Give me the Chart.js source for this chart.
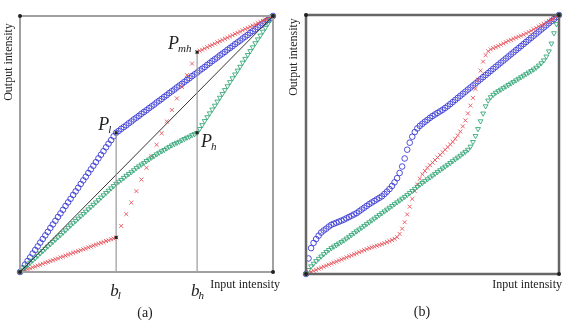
<!DOCTYPE html>
<html>
<head>
<meta charset="utf-8">
<script src="https://cdn.jsdelivr.net/npm/chart.js@4"></script>
<style>
  body { margin: 0; background: #fff; }
  #wrap { position: relative; width: 564px; height: 322px; }
  canvas { position: absolute; top: 0; }
</style>
</head>
<body>
<div id="wrap">
  <canvas id="chart_a" width="282" height="322" style="left:0"></canvas>
  <canvas id="chart_b" width="282" height="322" style="left:282px"></canvas>
</div>
<script>
// input levels (normalised)
let inputX = [0, 0.01, 0.02, 0.03, 0.04, 0.05, 0.06, 0.07, 0.08, 0.09,
  0.10, 0.11, 0.12, 0.13, 0.14, 0.15, 0.16, 0.17, 0.18, 0.19,
  0.20, 0.21, 0.22, 0.23, 0.24, 0.25, 0.26, 0.27, 0.28, 0.29,
  0.30, 0.31, 0.32, 0.33, 0.34, 0.35, 0.36, 0.37, 0.38, 0.39,
  0.40, 0.41, 0.42, 0.43, 0.44, 0.45, 0.46, 0.47, 0.48, 0.49,
  0.50, 0.51, 0.52, 0.53, 0.54, 0.55, 0.56, 0.57, 0.58, 0.59,
  0.60, 0.61, 0.62, 0.63, 0.64, 0.65, 0.66, 0.67, 0.68, 0.69,
  0.70, 0.71, 0.72, 0.73, 0.74, 0.75, 0.76, 0.77, 0.78, 0.79,
  0.80, 0.81, 0.82, 0.83, 0.84, 0.85, 0.86, 0.87, 0.88, 0.89,
  0.90, 0.91, 0.92, 0.93, 0.94, 0.95, 0.96, 0.97, 0.98, 0.99, 1];

// panel (a)
let blueA = [0, 0.014, 0.029, 0.043, 0.057, 0.072, 0.086, 0.100, 0.115, 0.129,
  0.143, 0.157, 0.172, 0.186, 0.200, 0.215, 0.229, 0.243, 0.258, 0.272,
  0.286, 0.301, 0.315, 0.329, 0.344, 0.358, 0.372, 0.387, 0.401, 0.415,
  0.429, 0.444, 0.458, 0.472, 0.487, 0.501, 0.515, 0.530, 0.544, 0.551,
  0.559, 0.566, 0.573, 0.581, 0.588, 0.596, 0.603, 0.610, 0.618, 0.625,
  0.632, 0.640, 0.647, 0.654, 0.662, 0.669, 0.676, 0.684, 0.691, 0.699,
  0.706, 0.713, 0.721, 0.728, 0.735, 0.743, 0.750, 0.757, 0.765, 0.772,
  0.779, 0.787, 0.794, 0.801, 0.809, 0.816, 0.824, 0.831, 0.838, 0.846,
  0.853, 0.860, 0.868, 0.875, 0.882, 0.890, 0.897, 0.904, 0.912, 0.919,
  0.926, 0.934, 0.941, 0.948, 0.956, 0.963, 0.971, 0.978, 0.985, 0.993, 1];
let greenA = [0, 0.009, 0.018, 0.027, 0.036, 0.045, 0.054, 0.064, 0.073, 0.082,
  0.091, 0.100, 0.109, 0.118, 0.127, 0.136, 0.145, 0.154, 0.163, 0.173,
  0.182, 0.191, 0.200, 0.209, 0.218, 0.227, 0.236, 0.245, 0.254, 0.263,
  0.272, 0.281, 0.291, 0.300, 0.309, 0.318, 0.327, 0.336, 0.345, 0.353,
  0.360, 0.368, 0.376, 0.383, 0.390, 0.398, 0.406, 0.413, 0.420, 0.426,
  0.434, 0.440, 0.447, 0.453, 0.460, 0.466, 0.472, 0.477, 0.483, 0.489,
  0.495, 0.500, 0.505, 0.509, 0.515, 0.520, 0.525, 0.529, 0.535, 0.539,
  0.544, 0.559, 0.574, 0.590, 0.605, 0.620, 0.635, 0.650, 0.666, 0.681,
  0.696, 0.711, 0.726, 0.742, 0.757, 0.772, 0.787, 0.802, 0.818, 0.833,
  0.848, 0.863, 0.878, 0.894, 0.909, 0.924, 0.939, 0.954, 0.970, 0.985, 1];
// red is sampled more coarsely on its steep middle part
let redAX = [0, 0.01, 0.02, 0.03, 0.04, 0.05, 0.06, 0.07, 0.08, 0.09,
  0.10, 0.11, 0.12, 0.13, 0.14, 0.15, 0.16, 0.17, 0.18, 0.19,
  0.20, 0.21, 0.22, 0.23, 0.24, 0.25, 0.26, 0.27, 0.28, 0.29,
  0.30, 0.31, 0.32, 0.33, 0.34, 0.35, 0.36, 0.37, 0.38,
  0.40, 0.42, 0.44, 0.46, 0.48, 0.50, 0.52, 0.54, 0.56, 0.58,
  0.60, 0.62, 0.64, 0.66, 0.68,
  0.70, 0.71, 0.72, 0.73, 0.74, 0.75, 0.76, 0.77, 0.78, 0.79,
  0.80, 0.81, 0.82, 0.83, 0.84, 0.85, 0.86, 0.87, 0.88, 0.89,
  0.90, 0.91, 0.92, 0.93, 0.94, 0.95, 0.96, 0.97, 0.98, 0.99, 1];
let redA = [0, 0.004, 0.007, 0.011, 0.014, 0.018, 0.021, 0.025, 0.028, 0.032,
  0.036, 0.039, 0.043, 0.046, 0.050, 0.053, 0.057, 0.060, 0.064, 0.068,
  0.071, 0.075, 0.078, 0.082, 0.085, 0.089, 0.092, 0.096, 0.099, 0.103,
  0.107, 0.110, 0.114, 0.117, 0.121, 0.124, 0.128, 0.131, 0.135,
  0.180, 0.226, 0.271, 0.316, 0.361, 0.407, 0.452, 0.497, 0.542, 0.588,
  0.633, 0.678, 0.723, 0.769, 0.814,
  0.859, 0.864, 0.868, 0.873, 0.878, 0.883, 0.887, 0.892, 0.897, 0.902,
  0.906, 0.911, 0.915, 0.920, 0.925, 0.930, 0.934, 0.939, 0.944, 0.949,
  0.953, 0.958, 0.962, 0.967, 0.972, 0.977, 0.981, 0.986, 0.991, 0.995, 1];
let diagX = [0, 1];
let diagY = [0, 1];
let breakX = [0.38, 0.70];     // b_l, b_h
let breakTop = [0.544, 0.859]; // P_l, P_mh
let breakMid = 0.544;          // P_h

// panel (b)
let blueB = [0, 0.060, 0.100, 0.120, 0.135, 0.148, 0.160, 0.168, 0.175, 0.183,
  0.190, 0.194, 0.198, 0.202, 0.206, 0.210, 0.215, 0.220, 0.225, 0.230,
  0.235, 0.242, 0.249, 0.256, 0.263, 0.270, 0.276, 0.282, 0.288, 0.294,
  0.300, 0.309, 0.318, 0.328, 0.340, 0.354, 0.370, 0.390, 0.415, 0.446,
  0.480, 0.507, 0.530, 0.548, 0.562, 0.572, 0.580, 0.588, 0.595, 0.603,
  0.610, 0.616, 0.622, 0.628, 0.634, 0.641, 0.648, 0.656, 0.664, 0.672,
  0.680, 0.688, 0.696, 0.704, 0.712, 0.720, 0.728, 0.736, 0.744, 0.752,
  0.760, 0.768, 0.776, 0.784, 0.792, 0.800, 0.808, 0.816, 0.824, 0.832,
  0.840, 0.848, 0.856, 0.864, 0.872, 0.880, 0.888, 0.896, 0.904, 0.912,
  0.920, 0.928, 0.936, 0.944, 0.952, 0.960, 0.968, 0.976, 0.984, 0.992, 1];
let greenB = [0, 0.016, 0.030, 0.040, 0.050, 0.059, 0.068, 0.077, 0.085, 0.093,
  0.100, 0.106, 0.112, 0.118, 0.124, 0.130, 0.137, 0.144, 0.151, 0.158,
  0.165, 0.172, 0.179, 0.186, 0.193, 0.200, 0.207, 0.214, 0.221, 0.228,
  0.235, 0.242, 0.249, 0.256, 0.263, 0.270, 0.277, 0.284, 0.291, 0.298,
  0.305, 0.313, 0.321, 0.329, 0.337, 0.345, 0.352, 0.359, 0.366, 0.373,
  0.380, 0.387, 0.394, 0.401, 0.408, 0.415, 0.422, 0.429, 0.436, 0.443,
  0.450, 0.457, 0.465, 0.472, 0.480, 0.492, 0.510, 0.533, 0.560, 0.590,
  0.620, 0.648, 0.670, 0.683, 0.692, 0.700, 0.706, 0.712, 0.718, 0.724,
  0.730, 0.736, 0.742, 0.748, 0.754, 0.760, 0.766, 0.772, 0.778, 0.784,
  0.790, 0.797, 0.805, 0.814, 0.825, 0.840, 0.860, 0.890, 0.930, 0.965, 1];
let redB = [0, 0.004, 0.008, 0.012, 0.016, 0.020, 0.024, 0.028, 0.032, 0.036,
  0.040, 0.044, 0.048, 0.052, 0.056, 0.060, 0.064, 0.068, 0.072, 0.076,
  0.080, 0.084, 0.088, 0.092, 0.096, 0.100, 0.103, 0.106, 0.109, 0.112,
  0.115, 0.119, 0.123, 0.127, 0.131, 0.136, 0.142, 0.155, 0.175, 0.200,
  0.230, 0.260, 0.290, 0.320, 0.345, 0.368, 0.385, 0.398, 0.410, 0.420,
  0.430, 0.440, 0.450, 0.460, 0.470, 0.480, 0.490, 0.500, 0.510, 0.522,
  0.535, 0.550, 0.570, 0.593, 0.620, 0.650, 0.680, 0.715, 0.750, 0.785,
  0.820, 0.845, 0.860, 0.867, 0.872, 0.876, 0.880, 0.885, 0.890, 0.895,
  0.900, 0.904, 0.908, 0.912, 0.916, 0.920, 0.924, 0.929, 0.934, 0.939,
  0.945, 0.950, 0.956, 0.961, 0.966, 0.971, 0.977, 0.982, 0.988, 0.994, 1];

function pts(xs, ys) {
  return xs.map((x, i) => ({ x: x, y: ys[i] }));
}

let BLUE = 'rgba(50, 50, 210, 0.85)';
let RED = 'rgba(230, 75, 85, 0.85)';
let GREEN = 'rgba(45, 165, 115, 0.85)';

function markers(label, xs, ys, color, style, extra) {
  return Object.assign({
    label: label,
    data: pts(xs, ys),
    showLine: false,
    pointStyle: style,
    pointRadius: 2.8,
    pointBorderWidth: 1,
    pointBorderColor: color,
    pointBackgroundColor: 'rgba(0,0,0,0)',
    clip: false
  }, extra || {});
}

function frame(opts) {
  return {
    id: 'frame',
    afterDatasetsDraw(chart) {
      let ctx = chart.ctx;
      let a = chart.chartArea;
      let x = chart.scales.x, y = chart.scales.y;
      ctx.save();
      ctx.strokeStyle = opts.color;
      ctx.lineWidth = opts.width;
      ctx.strokeRect(a.left, a.top, a.right - a.left, a.bottom - a.top);
      ctx.fillStyle = '#222';
      [[a.left, a.top], [a.right, a.bottom], [a.left, a.bottom], [a.right, a.top]].forEach(p => {
        ctx.beginPath(); ctx.arc(p[0], p[1], 2, 0, Math.PI * 2); ctx.fill();
      });
      (opts.dots || []).forEach(d => {
        ctx.fillRect(x.getPixelForValue(d[0]) - 1.5, y.getPixelForValue(d[1]) - 1.5, 3, 3);
      });
      ctx.fillStyle = '#222';
      ctx.font = '12px "Liberation Serif"';
      ctx.textBaseline = 'middle';
      ctx.textAlign = 'center';
      ctx.save();
      ctx.translate(opts.yTitle[0], opts.yTitle[1]);
      ctx.rotate(-Math.PI / 2);
      ctx.fillText('Output intensity', 0, 0);
      ctx.restore();
      ctx.textAlign = 'right';
      ctx.fillText('Input intensity', opts.xTitle[0], opts.xTitle[1]);
      ctx.textAlign = 'center';
      ctx.font = '14px "Liberation Serif"';
      ctx.fillText(opts.caption, opts.capPos[0], opts.capPos[1]);
      ctx.textAlign = 'left';
      ctx.textBaseline = 'alphabetic';
      (opts.marks || []).forEach(m => {
        let px = x.getPixelForValue(m.x) + m.dx;
        let py = y.getPixelForValue(m.y) + m.dy;
        ctx.font = 'italic ' + m.size + 'px "Liberation Serif"';
        ctx.fillText(m.main, px, py);
        let w = ctx.measureText(m.main).width;
        ctx.font = 'italic ' + Math.round(m.size * 0.62) + 'px "Liberation Serif"';
        ctx.fillText(m.sub, px + w - 1, py + 3);
      });
      ctx.restore();
    }
  };
}

let scalesOpt = {
  x: { type: 'linear', min: 0, max: 1, display: false },
  y: { type: 'linear', min: 0, max: 1, display: false }
};

let ctx_a = document.getElementById('chart_a');
let chart_a = new Chart(ctx_a, {
  type: 'scatter',
  data: {
    datasets: [
      {
        label: 'b_l',
        data: pts([breakX[0], breakX[0]], [0, breakTop[0]]),
        showLine: true, borderColor: '#9a9a9a', borderWidth: 1.2, pointRadius: 0
      },
      {
        label: 'b_h',
        data: pts([breakX[1], breakX[1]], [0, breakTop[1]]),
        showLine: true, borderColor: '#9a9a9a', borderWidth: 1.2, pointRadius: 0
      },
      {
        label: 'identity',
        data: pts(diagX, diagY),
        showLine: true, borderColor: '#333', borderWidth: 1, pointRadius: 0
      },
      markers('green', inputX, greenA, GREEN, 'triangle', { rotation: 180 }),
      markers('red', redAX, redA, RED, 'crossRot'),
      markers('blue', inputX, blueA, BLUE, 'circle')
    ]
  },
  options: {
    responsive: false,
    animation: false,
    layout: { padding: { left: 20, right: 9, top: 16, bottom: 50 } },
    plugins: { legend: { display: false }, tooltip: { enabled: false } },
    scales: scalesOpt
  },
  plugins: [frame({
    color: '#a0a0a0', width: 2,
    yTitle: [9, 62], xTitle: [280, 285],
    caption: '(a)', capPos: [145, 313],
    dots: [[breakX[0], breakTop[0]], [breakX[1], breakMid], [breakX[1], breakTop[1]], [breakX[0], redA[38]]],
    marks: [
      { main: 'b', sub: 'l', x: breakX[0], y: 0, dx: -6, dy: 24, size: 17 },
      { main: 'b', sub: 'h', x: breakX[1], y: 0, dx: -6, dy: 24, size: 17 },
      { main: 'P', sub: 'l', x: breakX[0], y: breakTop[0], dx: -18, dy: -3, size: 18 },
      { main: 'P', sub: 'mh', x: breakX[1], y: breakTop[1], dx: -29, dy: -3, size: 18 },
      { main: 'P', sub: 'h', x: breakX[1], y: breakMid, dx: 4, dy: 14, size: 18 }
    ]
  })]
});

let ctx_b = document.getElementById('chart_b');
let chart_b = new Chart(ctx_b, {
  type: 'scatter',
  data: {
    datasets: [
      markers('green', inputX, greenB, GREEN, 'triangle', { rotation: 180 }),
      markers('red', inputX, redB, RED, 'crossRot'),
      markers('blue', inputX, blueB, BLUE, 'circle')
    ]
  },
  options: {
    responsive: false,
    animation: false,
    layout: { padding: { left: 24, right: 3, top: 15, bottom: 48 } },
    plugins: { legend: { display: false }, tooltip: { enabled: false } },
    scales: scalesOpt
  },
  plugins: [frame({
    color: '#666', width: 2.5,
    yTitle: [12, 57], xTitle: [280, 285],
    caption: '(b)', capPos: [140, 312]
  })]
});
</script>
</body>
</html>
